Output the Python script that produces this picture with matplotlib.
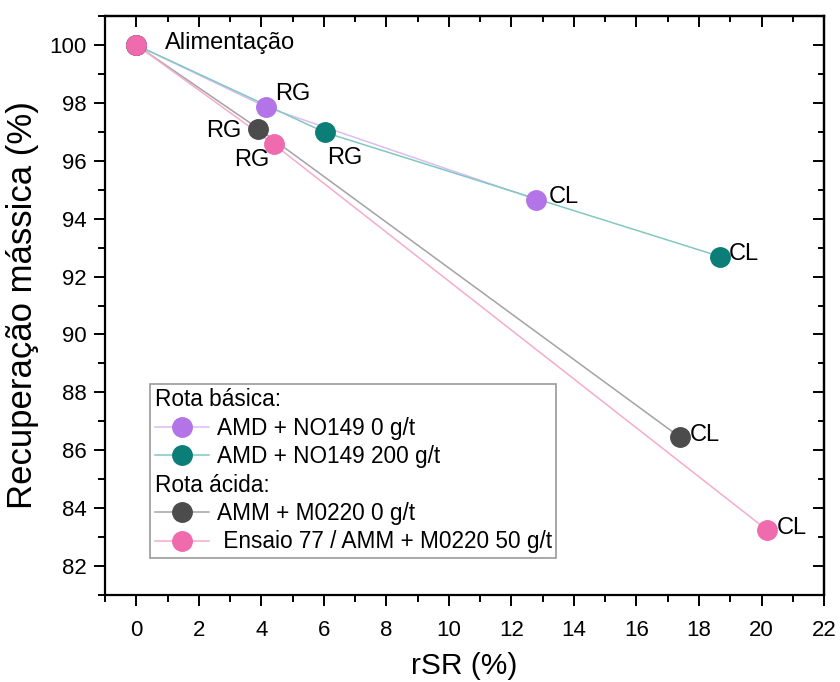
import matplotlib
matplotlib.use("Agg")
import matplotlib.pyplot as plt
from matplotlib.ticker import MultipleLocator
from matplotlib.lines import Line2D

plt.rcParams['font.family'] = ['Liberation Sans', 'DejaVu Sans']

# rSR (%) and mass recovery (%) for feed -> rougher (RG) -> cleaner (CL)
stages = ['Alimentação', 'RG', 'CL']

rsr_amd_0 = [0.0, 4.14, 12.80]
rec_amd_0 = [100.0, 97.86, 94.66]

rsr_amd_200 = [0.0, 6.03, 18.68]
rec_amd_200 = [100.0, 96.98, 92.69]

rsr_amm_0 = [0.0, 3.91, 17.38]
rec_amm_0 = [100.0, 97.11, 86.46]

rsr_e77 = [0.0, 4.39, 20.18]
rec_e77 = [100.0, 96.58, 83.24]

series_names = ['AMD + NO149 0 g/t', 'AMD + NO149 200 g/t',
                'AMM + M0220 0 g/t', ' Ensaio 77 / AMM + M0220 50 g/t']
group_titles = ['Rota básica:', 'Rota ácida:']

marker_colors = ['#b274e6', '#0a7e77', '#4c4c4c', '#f06aae']
line_colors = ['#dbbcf3', '#80c8c1', '#a3a3a3', '#f6abcd']

fig = plt.figure(figsize=(8.4, 6.82), dpi=100)
ax = fig.add_axes([0.125, 0.1276, 0.981 - 0.125, 0.9765 - 0.1276])

xs = [rsr_amd_0, rsr_amd_200, rsr_amm_0, rsr_e77]
ys = [rec_amd_0, rec_amd_200, rec_amm_0, rec_e77]
handles = []
for x, y, mc, lc in zip(xs, ys, marker_colors, line_colors):
    ax.plot(x, y, color=lc, lw=1.1, zorder=2)
    ax.plot(x, y, ls='none', marker='o', ms=14, mfc=mc, mec=mc, zorder=3)
    handles.append(Line2D([], [], color=lc, lw=1.1, marker='o', ms=14,
                          mfc=mc, mec=mc))

# stage labels (offsets in points relative to each marker)
fs_lab = 17
def tag(x, y, s, dx, dy, ha='left'):
    ax.annotate(s, (x, y), xytext=(dx, dy), textcoords='offset points',
                ha=ha, va='center', fontsize=fs_lab, zorder=4)

tag(rsr_e77[0], rec_e77[0], stages[0], 21, 1.5)
tag(rsr_amd_0[1], rec_amd_0[1], stages[1], 7, 9)
tag(rsr_amm_0[1], rec_amm_0[1], stages[1], -12, -2, ha='right')
tag(rsr_e77[1], rec_e77[1], stages[1], -16, -11.5, ha='center')
tag(rsr_amd_200[1], rec_amd_200[1], stages[1], 14.5, -18.5, ha='center')
tag(rsr_amd_0[2], rec_amd_0[2], stages[2], 9, 2)
tag(rsr_amd_200[2], rec_amd_200[2], stages[2], 6, 1.5)
tag(rsr_amm_0[2], rec_amm_0[2], stages[2], 7, 1.5)
tag(rsr_e77[2], rec_e77[2], stages[2], 7, 1.5)

ax.set_xlim(-1, 22)
ax.set_ylim(81, 101)
ax.xaxis.set_major_locator(MultipleLocator(2))
ax.xaxis.set_minor_locator(MultipleLocator(1))
ax.yaxis.set_major_locator(MultipleLocator(2))
ax.yaxis.set_minor_locator(MultipleLocator(1))

ax.tick_params(which='both', direction='out', width=1.4, labelsize=16,
               top=False, right=False)
ax.tick_params(which='major', length=8)
ax.tick_params(which='minor', length=5)
ax.tick_params(axis='x', pad=10)
ax.tick_params(axis='y', pad=5)
for sp in ax.spines.values():
    sp.set_linewidth(1.6)

# inward ticks on the top and right sides
sec_x = ax.secondary_xaxis('top')
sec_y = ax.secondary_yaxis('right')
for sec, axis in ((sec_x, sec_x.xaxis), (sec_y, sec_y.yaxis)):
    axis.set_major_locator(MultipleLocator(2))
    axis.set_minor_locator(MultipleLocator(1))
    sec.tick_params(which='both', direction='in', width=1.4,
                    labeltop=False, labelright=False,
                    labelbottom=False, labelleft=False)
    sec.tick_params(which='major', length=8)
    sec.tick_params(which='minor', length=4)
    for sp in sec.spines.values():
        sp.set_linewidth(1.6)

ax.set_xlabel('rSR (%)', fontsize=21.5, labelpad=8)
ax.set_ylabel('Recuperação mássica (%)', fontsize=25, labelpad=8)

# legend with two group headers
blank = Line2D([], [], ls='none')
leg_handles = [blank, handles[0], handles[1], blank, handles[2], handles[3]]
leg_labels = [group_titles[0], series_names[0], series_names[1],
              group_titles[1], series_names[2], series_names[3]]
leg_fs = 16.3
hl, htp = 2.4, 0.35
leg = ax.legend(leg_handles, leg_labels, loc='lower left',
                bbox_to_anchor=(0.0626, 0.0639), borderaxespad=0,
                fontsize=leg_fs, handlelength=hl, handletextpad=htp,
                labelspacing=0.24, borderpad=0.2, fancybox=False,
                framealpha=1, edgecolor='#9a9a9a')
leg.get_frame().set_linewidth(1.2)
shift = (hl + htp) * leg_fs * fig.dpi / 72.0
for i in (0, 3):
    leg.get_texts()[i].set_x(-shift)

fig.savefig('out.png', dpi=100)
